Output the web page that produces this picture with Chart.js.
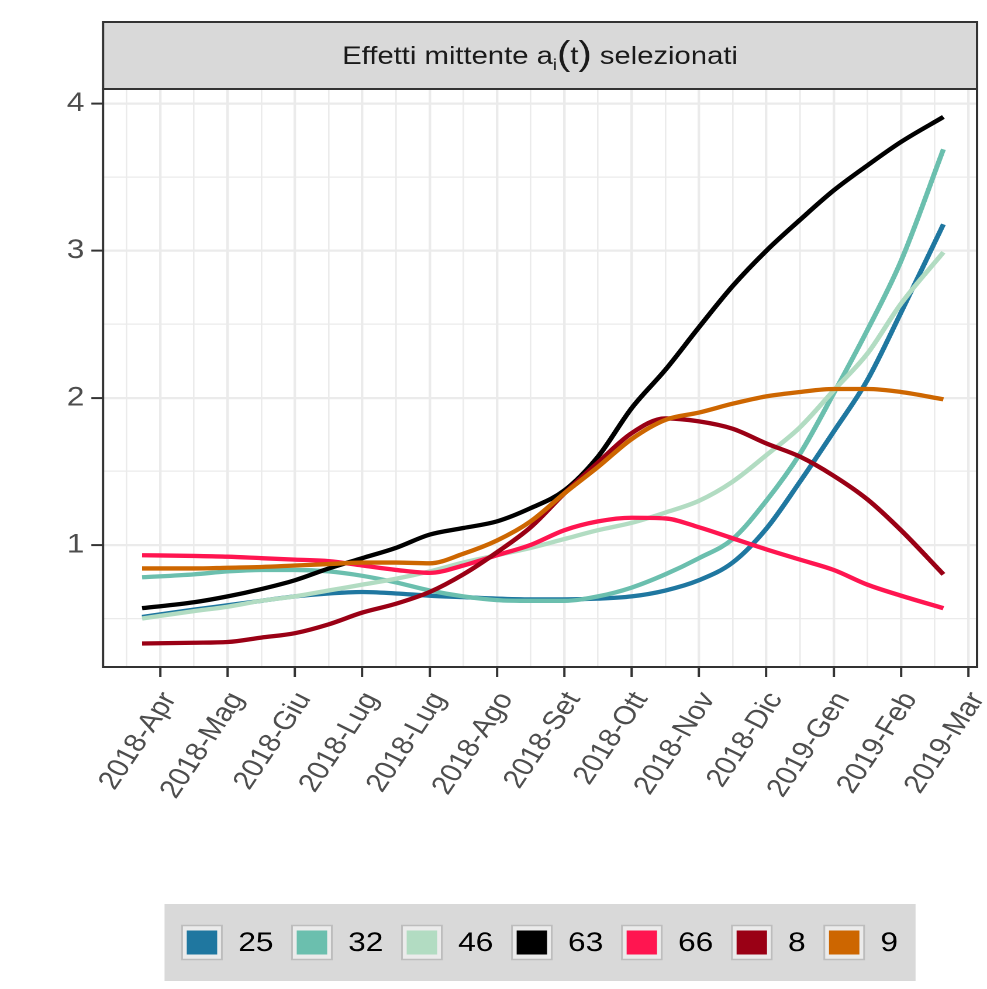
<!DOCTYPE html>
<html>
<head>
<meta charset="utf-8">
<script src="https://cdn.jsdelivr.net/npm/chart.js@4.4.1/dist/chart.umd.min.js"></script>
<style>
  html, body { margin: 0; padding: 0; background: #fff; overflow: hidden; }
  /* the reference is stretched horizontally, so the chart is drawn narrower and scaled */
  #wrap { width: 844px; height: 989px; transform: scaleX(1.16943); transform-origin: 0 0; }
  #myChart { display: block; }
</style>
</head>
<body>
<div id="wrap"><canvas id="myChart" width="844" height="989"></canvas></div>
<script>
const FONT = "'Liberation Sans', Arial, Helvetica, sans-serif";

// tick labels on the x axis (one per month index 0..12)
const months = ["2018-Apr", "2018-Mag", "2018-Giu", "2018-Lug", "2018-Lug", "2018-Ago",
  "2018-Set", "2018-Ott", "2018-Nov", "2018-Dic", "2019-Gen", "2019-Feb", "2019-Mar"];
const yTicks = [1, 2, 3, 4];

// sample positions along the month axis
const xs = [-0.27, 0.5, 1, 1.5, 2, 2.5, 3, 3.5, 4, 4.5, 5, 5.5, 6, 6.5, 7, 7.5, 8, 8.5, 9, 9.5, 10, 10.5, 11, 11.63];

const seriesNames = ["25", "32", "46", "63", "66", "8", "9"];
const seriesColors = ["#1f77a0", "#6bbfae", "#b2dcc2", "#000000", "#ff1550", "#9a0015", "#cd6600"];

const s25 = [0.51, 0.56, 0.59, 0.62, 0.65, 0.67, 0.68, 0.67, 0.655, 0.645, 0.635, 0.63, 0.63, 0.635, 0.65, 0.69, 0.76, 0.88, 1.11, 1.43, 1.77, 2.12, 2.58, 3.18];
const s32 = [0.78, 0.80, 0.82, 0.83, 0.83, 0.82, 0.79, 0.745, 0.69, 0.65, 0.625, 0.62, 0.62, 0.65, 0.71, 0.80, 0.91, 1.04, 1.30, 1.62, 2.03, 2.46, 2.93, 3.69];
const s46 = [0.50, 0.55, 0.58, 0.62, 0.65, 0.69, 0.73, 0.77, 0.82, 0.88, 0.93, 0.98, 1.04, 1.10, 1.15, 1.22, 1.30, 1.43, 1.61, 1.80, 2.05, 2.30, 2.64, 2.99];
const s63 = [0.57, 0.61, 0.65, 0.70, 0.76, 0.84, 0.91, 0.98, 1.07, 1.115, 1.16, 1.25, 1.37, 1.60, 1.93, 2.19, 2.48, 2.76, 3.00, 3.21, 3.41, 3.58, 3.74, 3.91];
const s66 = [0.93, 0.925, 0.92, 0.91, 0.90, 0.89, 0.86, 0.83, 0.81, 0.86, 0.93, 1.00, 1.10, 1.16, 1.185, 1.18, 1.12, 1.045, 0.97, 0.90, 0.83, 0.73, 0.655, 0.57];
const s8 = [0.33, 0.335, 0.34, 0.37, 0.40, 0.46, 0.54, 0.60, 0.68, 0.80, 0.95, 1.12, 1.35, 1.56, 1.76, 1.86, 1.84, 1.79, 1.69, 1.60, 1.47, 1.31, 1.10, 0.80];
const s9 = [0.84, 0.84, 0.845, 0.85, 0.86, 0.87, 0.88, 0.88, 0.875, 0.94, 1.03, 1.16, 1.35, 1.53, 1.72, 1.85, 1.90, 1.96, 2.01, 2.04, 2.06, 2.06, 2.04, 1.99];

const allSeries = [s25, s32, s46, s63, s66, s8, s9];

const datasets = allSeries.map((vals, i) => ({
  label: seriesNames[i],
  data: vals.map((v, j) => ({ x: xs[j], y: v })),
  borderColor: seriesColors[i],
  backgroundColor: seriesColors[i],
  borderWidth: 4.3,
  pointRadius: 0,
  fill: false,
  cubicInterpolationMode: "monotone",
  order: allSeries.length - i // later series on top, like ggplot
}));

const isInt = v => Math.abs(v - Math.round(v)) < 1e-9;

// strip on top, panel border and the legend box at the bottom
const panelPlugin = {
  id: "panel",
  afterDraw(chart) {
    const { ctx, chartArea: a } = chart;
    ctx.save();

    // strip
    const stripTop = 22;
    ctx.fillStyle = "#d9d9d9";
    ctx.fillRect(a.left, stripTop, a.right - a.left, a.top - stripTop);
    ctx.strokeStyle = "#333333";
    ctx.lineWidth = 2;
    ctx.strokeRect(a.left, stripTop, a.right - a.left, a.top - stripTop);

    // strip text: Effetti mittente a_i(t) selezionati
    const parts = [
      { t: "Effetti mittente a", f: 25, dy: 0 },
      { t: "i", f: 16, dy: 6 },
      { t: "(", f: 34, dy: 1 },
      { t: "t", f: 25, dy: 0 },
      { t: ")", f: 34, dy: 1 },
      { t: " selezionati", f: 25, dy: 0 }
    ];
    let total = 0;
    parts.forEach(p => { ctx.font = p.f + "px " + FONT; p.w = ctx.measureText(p.t).width; total += p.w; });
    let x = (a.left + a.right) / 2 - total / 2;
    const base = 64;
    ctx.fillStyle = "#1a1a1a";
    ctx.textBaseline = "alphabetic";
    ctx.textAlign = "left";
    parts.forEach(p => { ctx.font = p.f + "px " + FONT; ctx.fillText(p.t, x, base + p.dy); x += p.w; });

    // panel border
    ctx.strokeStyle = "#333333";
    ctx.lineWidth = 2;
    ctx.strokeRect(a.left, a.top, a.right - a.left, a.bottom - a.top);

    // legend
    ctx.font = "27px " + FONT;
    const keyW = 34, keyH = 34, gapKey = 14, gapItem = 16, padX = 15;
    const items = chart.data.datasets.map(d => ({ label: d.label, color: d.borderColor, w: ctx.measureText(d.label).width }));
    let lw = 0;
    items.forEach((it, i) => { lw += keyW + gapKey + it.w + (i < items.length - 1 ? gapItem : 0); });
    const boxL = (a.left + a.right) / 2 - lw / 2 - padX;
    const boxT = 904, boxH = 77;
    ctx.fillStyle = "#d9d9d9";
    ctx.fillRect(boxL, boxT, lw + 2 * padX, boxH);
    const cy = boxT + boxH / 2;
    x = boxL + padX;
    ctx.textBaseline = "middle";
    items.forEach(it => {
      ctx.fillStyle = "#ebebeb";
      ctx.fillRect(x, cy - keyH / 2, keyW, keyH);
      ctx.strokeStyle = "#bdbdbd";
      ctx.lineWidth = 1.5;
      ctx.strokeRect(x, cy - keyH / 2, keyW, keyH);
      ctx.fillStyle = it.color;
      ctx.fillRect(x + 4, cy - keyH / 2 + 5, keyW - 8, keyH - 10);
      ctx.fillStyle = "#000000";
      ctx.fillText(it.label, x + keyW + gapKey, cy + 1);
      x += keyW + gapKey + it.w + gapItem;
    });

    ctx.restore();
  }
};

const ctx = document.getElementById("myChart").getContext("2d");
const myChart = new Chart(ctx, {
  type: "line",
  data: { datasets: datasets },
  plugins: [panelPlugin],
  options: {
    responsive: false,
    animation: false,
    devicePixelRatio: 2,
    layout: { autoPadding: false, padding: { top: 89, right: 8.5, left: 0, bottom: 0 } },
    plugins: { legend: { display: false }, tooltip: { enabled: false } },
    scales: {
      x: {
        type: "linear",
        min: -0.85,
        max: 12.13,
        afterBuildTicks: scale => {
          const t = [];
          for (let v = -0.5; v <= 12; v += 0.5) t.push({ value: v });
          scale.ticks = t;
        },
        afterFit: scale => { scale.height = 322; scale.paddingLeft = 0; scale.paddingRight = 0; },
        border: { display: false },
        grid: {
          color: "#ebebeb",
          lineWidth: c => (c.tick && isInt(c.tick.value) ? 2.2 : 1.3),
          tickColor: c => (c.tick && isInt(c.tick.value) ? "#333333" : "rgba(0,0,0,0)"),
          tickLength: 10,
          tickWidth: 2
        },
        ticks: {
          autoSkip: false,
          minRotation: 60,
          maxRotation: 60,
          padding: 10,
          labelOffset: 8,
          color: "#4d4d4d",
          font: { family: FONT, size: 26 },
          callback: v => (isInt(v) ? months[Math.round(v)] : "")
        }
      },
      y: {
        min: 0.17,
        max: 4.1,
        afterBuildTicks: scale => {
          const t = [];
          yTicks.forEach(v => { t.push({ value: v - 0.5 }); t.push({ value: v }); });
          scale.ticks = t;
        },
        afterFit: scale => { scale.width = 88.1; scale.paddingTop = 0; scale.paddingBottom = 0; },
        border: { display: false },
        grid: {
          color: "#ebebeb",
          lineWidth: c => (c.tick && isInt(c.tick.value) ? 2.2 : 1.3),
          tickColor: c => (c.tick && isInt(c.tick.value) ? "#333333" : "rgba(0,0,0,0)"),
          tickLength: 10,
          tickWidth: 2
        },
        ticks: {
          padding: 6,
          color: "#4d4d4d",
          font: { family: FONT, size: 27 },
          callback: v => (isInt(v) ? String(v) : "")
        }
      }
    }
  }
});
</script>
</body>
</html>
